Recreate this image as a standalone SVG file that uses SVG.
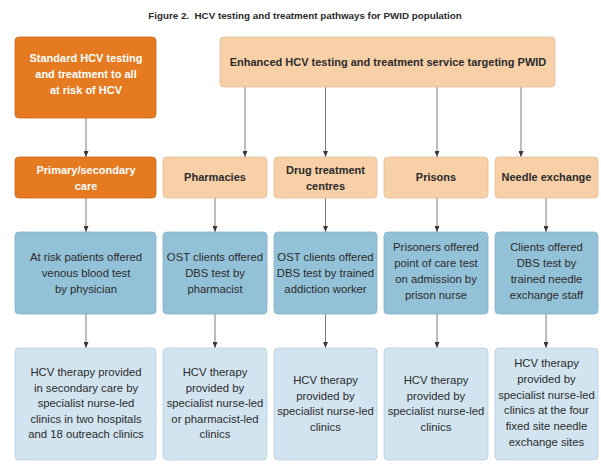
<svg xmlns="http://www.w3.org/2000/svg" width="601" height="466" viewBox="0 0 601 466">
<style>
text{font-family:"Liberation Sans",Arial,sans-serif;text-anchor:middle;fill:#2b2b2b}
.t{font-size:9.8px;font-weight:bold}
.b{font-size:11px;font-weight:bold}
.w{fill:#ffffff}
.r{font-size:11.3px}
.or{fill:#E67A20;stroke:#D06A18;stroke-width:0.8}
.pe{fill:#F8D0A8;stroke:#E6BC94;stroke-width:0.8}
.bl{fill:#93C1D8;stroke:#83B1C8;stroke-width:0.8}
.lb{fill:#D1E4EF;stroke:#B8D1DF;stroke-width:0.8}
.c{stroke:#7a7a7a;stroke-width:1;fill:none;marker-end:url(#ah)}
</style>
<defs>
<marker id="ah" viewBox="0 0 6 5" refX="6" refY="2.5" markerWidth="6" markerHeight="5" markerUnits="userSpaceOnUse" orient="auto">
<path d="M0,0 L6,2.5 L0,5 Z" fill="#3a3a3a"/>
</marker>
</defs>
<rect width="601" height="466" fill="#ffffff"/>
<text class="t" x="305" y="18.5" xml:space="preserve">Figure 2.  HCV testing and treatment pathways for PWID population</text>

<g id="connectors">
<line class="c" x1="86" y1="118" x2="86" y2="157"/>
<line class="c" x1="245" y1="87" x2="245" y2="157"/>
<line class="c" x1="325.5" y1="87" x2="325.5" y2="157"/>
<line class="c" x1="437" y1="87" x2="437" y2="157"/>
<line class="c" x1="521" y1="87" x2="521" y2="157"/>
<line class="c" x1="86" y1="198" x2="86" y2="232"/>
<line class="c" x1="215" y1="198" x2="215" y2="232"/>
<line class="c" x1="325.5" y1="198" x2="325.5" y2="232"/>
<line class="c" x1="437" y1="198" x2="437" y2="232"/>
<line class="c" x1="546" y1="198" x2="546" y2="232"/>
<line class="c" x1="86" y1="314" x2="86" y2="348"/>
<line class="c" x1="215" y1="314" x2="215" y2="348"/>
<line class="c" x1="325.5" y1="314" x2="325.5" y2="348"/>
<line class="c" x1="437" y1="314" x2="437" y2="348"/>
<line class="c" x1="546" y1="314" x2="546" y2="348"/>
</g>

<g id="standard">
<rect class="or" x="15" y="37" width="141" height="81" rx="4"/>
<text class="b w" x="86" y="62">Standard HCV testing</text>
<text class="b w" x="86" y="78">and treatment to all</text>
<text class="b w" x="86" y="94">at risk of HCV</text>
</g>
<g id="enhanced">
<rect class="pe" x="220" y="37" width="335" height="50" rx="4"/>
<text class="b" x="388" y="66">Enhanced HCV testing and treatment service targeting PWID</text>
</g>

<g id="primary">
<rect class="or" x="15" y="157" width="141" height="41" rx="4"/>
<text class="b w" x="86" y="174">Primary/secondary</text>
<text class="b w" x="86" y="190">care</text>
</g>
<g id="pharmacies">
<rect class="pe" x="163" y="157" width="104" height="41" rx="4"/>
<text class="b" x="215" y="181">Pharmacies</text>
</g>
<g id="drug">
<rect class="pe" x="274" y="157" width="103" height="41" rx="4"/>
<text class="b" x="325.5" y="174">Drug treatment</text>
<text class="b" x="325.5" y="190">centres</text>
</g>
<g id="prisons">
<rect class="pe" x="384" y="157" width="104" height="41" rx="4"/>
<text class="b" x="436" y="181">Prisons</text>
</g>
<g id="needle">
<rect class="pe" x="495" y="157" width="103" height="41" rx="4"/>
<text class="b" x="546.5" y="181">Needle exchange</text>
</g>

<g id="test1">
<rect class="bl" x="15" y="232" width="141" height="82" rx="4"/>
<text class="r" x="86" y="261">At risk patients offered</text>
<text class="r" x="86" y="277">venous blood test</text>
<text class="r" x="86" y="293">by physician</text>
</g>
<g id="test2">
<rect class="bl" x="163" y="232" width="104" height="82" rx="4"/>
<text class="r" x="215" y="261">OST clients offered</text>
<text class="r" x="215" y="277">DBS test by</text>
<text class="r" x="215" y="293">pharmacist</text>
</g>
<g id="test3">
<rect class="bl" x="274" y="232" width="103" height="82" rx="4"/>
<text class="r" x="325.5" y="261">OST clients offered</text>
<text class="r" x="325.5" y="277">DBS test by trained</text>
<text class="r" x="325.5" y="293">addiction worker</text>
</g>
<g id="test4">
<rect class="bl" x="384" y="232" width="104" height="82" rx="4"/>
<text class="r" x="436" y="251">Prisoners offered</text>
<text class="r" x="436" y="267">point of care test</text>
<text class="r" x="436" y="283">on admission by</text>
<text class="r" x="436" y="299">prison nurse</text>
</g>
<g id="test5">
<rect class="bl" x="495" y="232" width="103" height="82" rx="4"/>
<text class="r" x="546.5" y="251">Clients offered</text>
<text class="r" x="546.5" y="267">DBS test by</text>
<text class="r" x="546.5" y="283">trained needle</text>
<text class="r" x="546.5" y="299">exchange staff</text>
</g>

<g id="therapy1">
<rect class="lb" x="15" y="348" width="141" height="112" rx="4"/>
<text class="r" x="86" y="376">HCV therapy provided</text>
<text class="r" x="86" y="391.5">in secondary care by</text>
<text class="r" x="86" y="407">specialist nurse-led</text>
<text class="r" x="86" y="422.5">clinics in two hospitals</text>
<text class="r" x="86" y="438">and 18 outreach clinics</text>
</g>
<g id="therapy2">
<rect class="lb" x="163" y="348" width="104" height="112" rx="4"/>
<text class="r" x="215" y="376">HCV therapy</text>
<text class="r" x="215" y="391.5">provided by</text>
<text class="r" x="215" y="407">specialist nurse-led</text>
<text class="r" x="215" y="422.5">or pharmacist-led</text>
<text class="r" x="215" y="438">clinics</text>
</g>
<g id="therapy3">
<rect class="lb" x="274" y="348" width="103" height="112" rx="4"/>
<text class="r" x="325.5" y="384">HCV therapy</text>
<text class="r" x="325.5" y="399.5">provided by</text>
<text class="r" x="325.5" y="415">specialist nurse-led</text>
<text class="r" x="325.5" y="430.5">clinics</text>
</g>
<g id="therapy4">
<rect class="lb" x="384" y="348" width="104" height="112" rx="4"/>
<text class="r" x="436" y="384">HCV therapy</text>
<text class="r" x="436" y="399.5">provided by</text>
<text class="r" x="436" y="415">specialist nurse-led</text>
<text class="r" x="436" y="430.5">clinics</text>
</g>
<g id="therapy5">
<rect class="lb" x="495" y="348" width="103" height="112" rx="4"/>
<text class="r" x="546.5" y="367">HCV therapy</text>
<text class="r" x="546.5" y="382.8">provided by</text>
<text class="r" x="546.5" y="398.6">specialist nurse-led</text>
<text class="r" x="546.5" y="414.4">clinics at the four</text>
<text class="r" x="546.5" y="430.2">fixed site needle</text>
<text class="r" x="546.5" y="446">exchange sites</text>
</g>
</svg>
